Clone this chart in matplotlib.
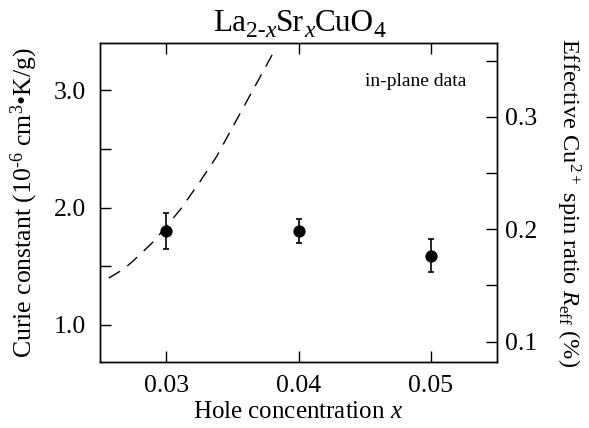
import matplotlib
matplotlib.use('Agg')
import matplotlib.pyplot as plt
from matplotlib.ticker import MultipleLocator

plt.rcParams['font.family'] = 'Liberation Serif'
plt.rcParams['mathtext.fontset'] = 'custom'
plt.rcParams['mathtext.rm'] = 'Liberation Serif'
plt.rcParams['mathtext.it'] = 'Liberation Serif:italic'

# data
x_pts = [0.03, 0.04, 0.05]
curie = [1.80, 1.80, 1.59]
curie_err = [0.15, 0.10, 0.14]

# dashed guide curve
curve_x = [0.02566, 0.02679, 0.02754, 0.02905, 0.03105, 0.03256,
           0.03381, 0.03532, 0.03656, 0.03807]
curve_y = [1.398, 1.475, 1.548, 1.710, 1.980, 2.222,
           2.435, 2.748, 3.003, 3.316]

x_ticks = [0.03, 0.04, 0.05]
x_ticklabels = ['0.03', '0.04', '0.05']
left_ticks = [1.0, 2.0, 3.0]
right_ticks = [0.1, 0.2, 0.3]

W, H = 589, 428
fig = plt.figure(figsize=(W/100, H/100), dpi=100)
ax = fig.add_axes([100/W, 1-362/H, 397/W, (362-43)/H])

ax.plot(curve_x, curve_y, color='black', lw=1.0, dashes=(9.5, 6.5))
ax.errorbar(x_pts, curie, yerr=curie_err, fmt='o', color='black',
            ms=7.8, capsize=2.5, elinewidth=1.2, capthick=1.2)

ax.set_xlim(0.025, 0.055)
ax.set_ylim(0.682, 3.404)
ax.set_xticks(x_ticks)
ax.set_xticklabels(x_ticklabels)
ax.set_yticks(left_ticks)
ax.set_yticklabels(['%.1f' % v for v in left_ticks])
ax.yaxis.set_minor_locator(MultipleLocator(0.5))

ax.tick_params(which='both', direction='in', length=8, width=1.0,
               labelsize=18.5, top=True, pad=10)
ax.tick_params(axis='x', pad=9.5)
for s in ax.spines.values():
    s.set_linewidth(1.0)

ax.set_xlabel('Hole concentration $x$', fontsize=18, labelpad=3)
ax.set_ylabel('Curie constant (10$^{\\text{-}6}$ cm$^3$\u2022K/g)',
              fontsize=18.5, labelpad=10)

ax2 = ax.twinx()
ax2.set_ylim(0.0819, 0.3656)
ax2.set_yticks(right_ticks)
ax2.set_yticklabels(['%.1f' % v for v in right_ticks])
ax2.yaxis.set_minor_locator(MultipleLocator(0.05))
ax2.tick_params(which='both', direction='in', length=8, width=1.0,
                labelsize=18.5, pad=6)
ax2.set_ylabel('Effective Cu$^{2+}$ spin ratio $R_{\\rm eff}$ (%)',
               fontsize=17.6, rotation=-90, labelpad=32)
for s in ax2.spines.values():
    s.set_linewidth(1.0)

ax.text(0.796, 0.88, 'in-plane data', transform=ax.transAxes,
        ha='center', va='center', fontsize=14)

# title built piece by piece so the subscripts can be a bit larger
pieces = [('La', 22.5, 'normal', 0), ('2-', 17, 'normal', -6),
          ('x', 17, 'italic', -6), ('Sr', 22.5, 'normal', 0),
          ('x', 17, 'italic', -6), ('CuO', 22.5, 'normal', 0),
          ('4', 17, 'normal', -6)]
renderer = fig.canvas.get_renderer()
widths = []
for s, fs, st, dy in pieces:
    t = fig.text(0, 0, s, fontsize=fs, style=st)
    widths.append(t.get_window_extent(renderer).width)
    t.remove()
x0 = 299 - sum(widths) / 2
base = 31
for (s, fs, st, dy), w in zip(pieces, widths):
    fig.text(x0/W, 1 - (base - dy)/H, s, fontsize=fs, style=st,
             ha='left', va='baseline')
    x0 += w

fig.savefig('out.png', dpi=100)
